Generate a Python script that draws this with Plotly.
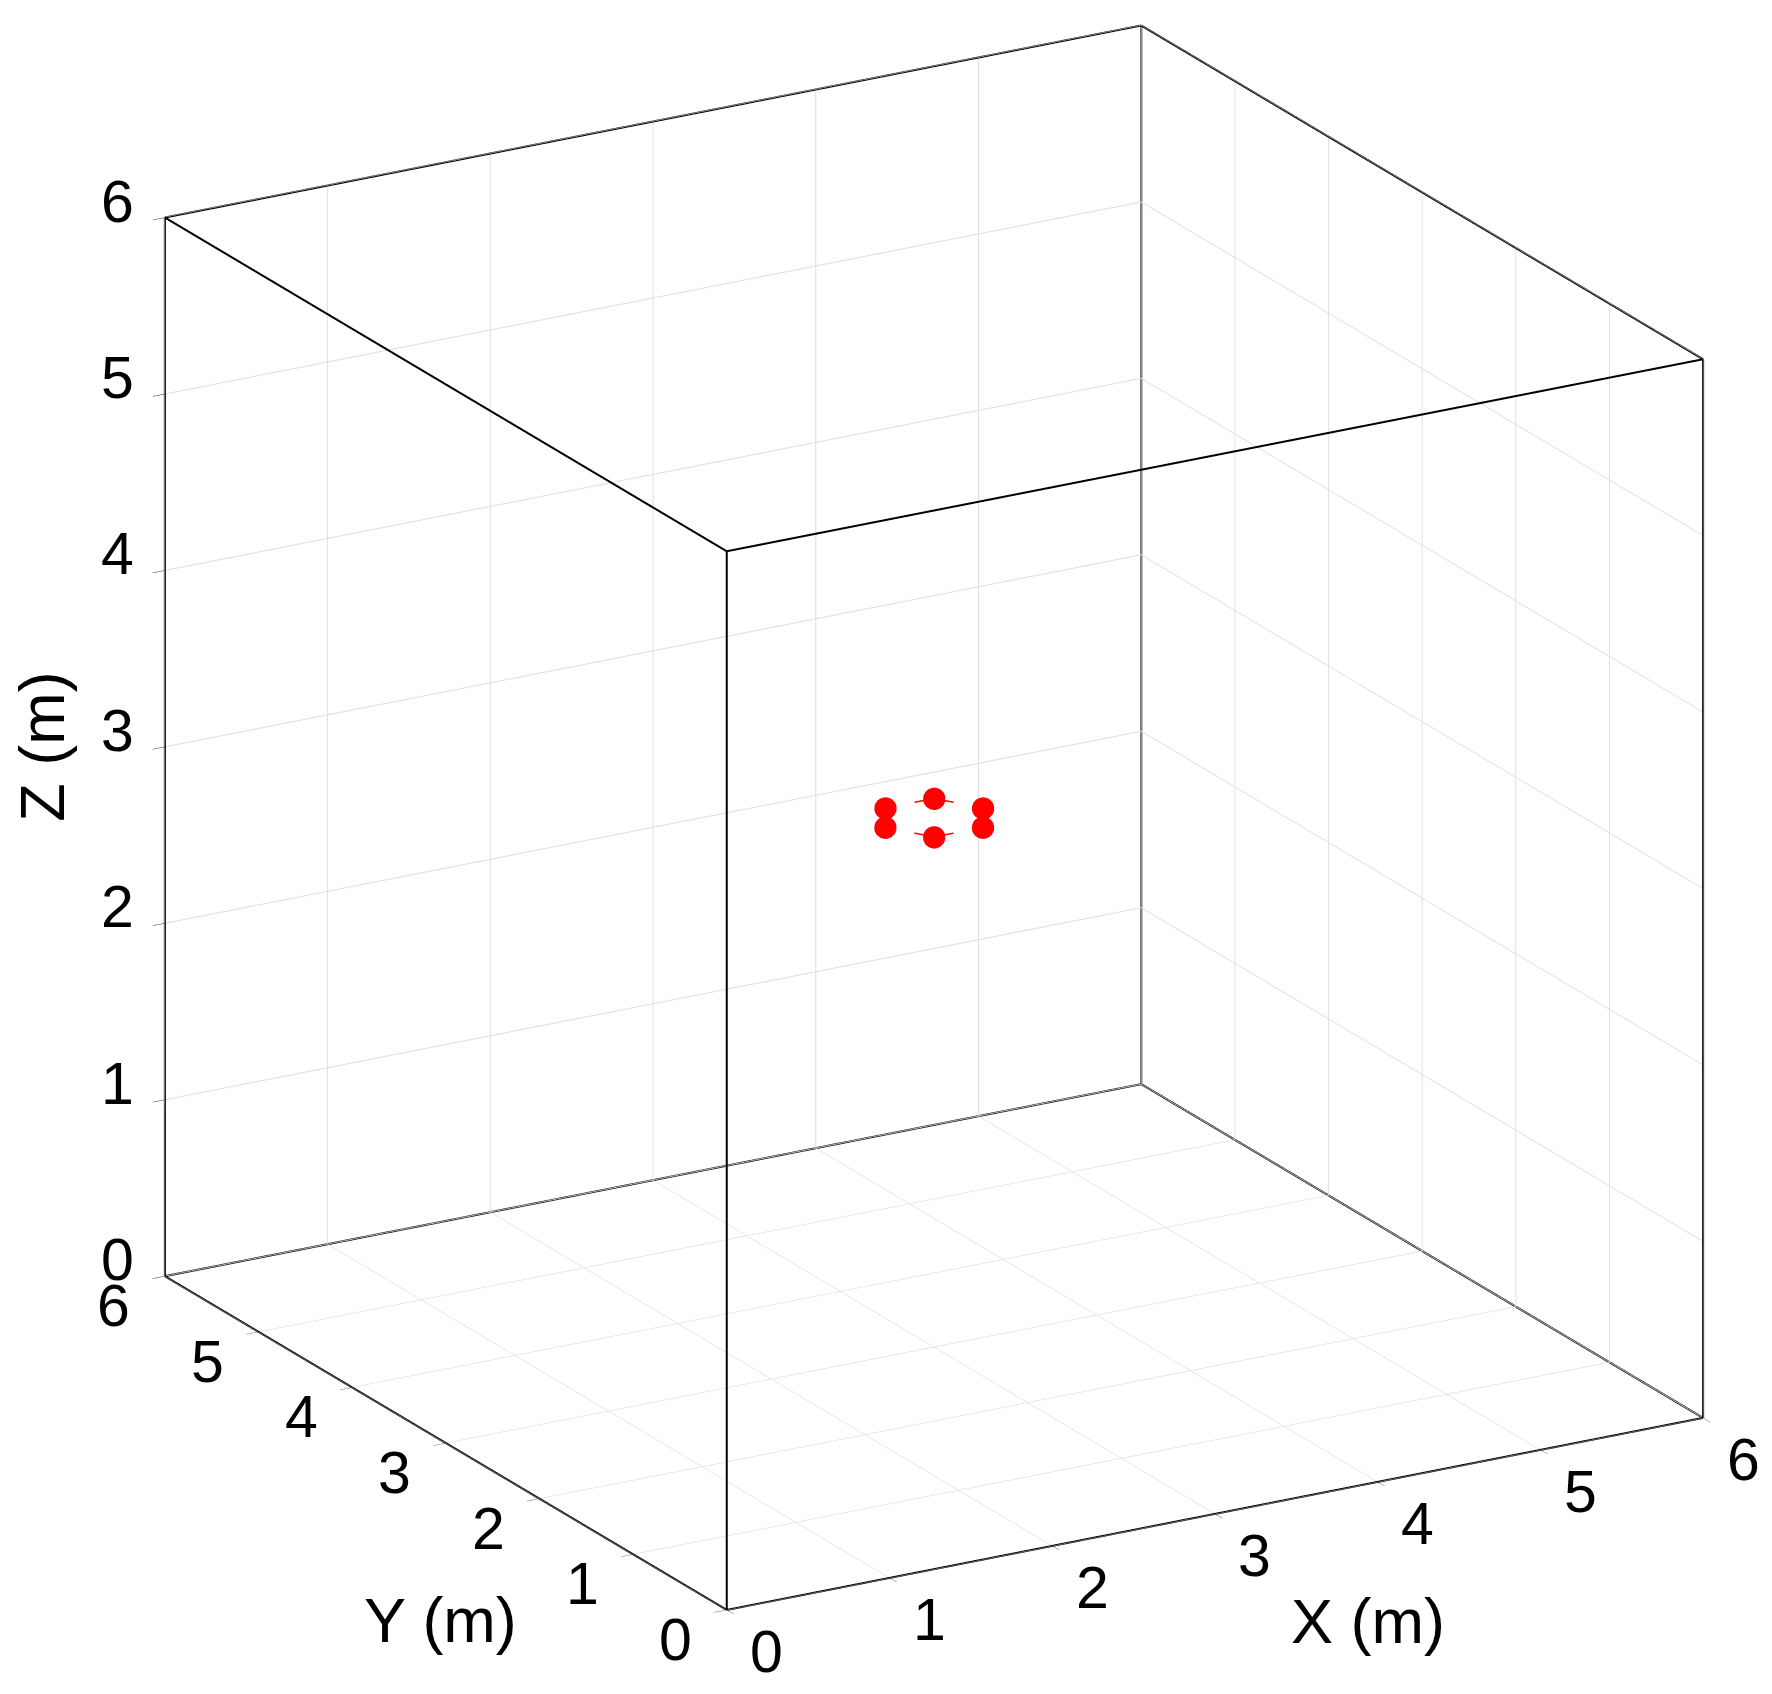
import plotly.graph_objects as go

# hexagon of 6 points (m), closed back to the first one
pts_x = [3.30, 3.15, 2.85, 2.70, 2.85, 3.15, 3.30]
pts_y = [3.00, 3.26, 3.26, 3.00, 2.74, 2.74, 3.00]
pts_z = [3.00, 3.00, 3.00, 3.00, 3.00, 3.00, 3.00]

tick_vals = [0, 1, 2, 3, 4, 5, 6]
tick_text = ["0", "1", "2", "3", "4", "5", "6"]
axis_range = [0, 6]

FONT = "Liberation Sans, Arial, sans-serif"
TICK_SIZE = 59
TITLE_SIZE = 63

lo, hi = axis_range
mid = (lo + hi) / 2

fig = go.Figure()

# box frame: all 12 edges (MATLAB "box on")
ex, ey, ez = [], [], []
for a in (lo, hi):
    for b in (lo, hi):
        ex += [lo, hi, None]; ey += [a, a, None]; ez += [b, b, None]
        ex += [a, a, None]; ey += [lo, hi, None]; ez += [b, b, None]
        ex += [a, a, None]; ey += [b, b, None]; ez += [lo, hi, None]
fig.add_trace(go.Scatter3d(
    x=ex, y=ey, z=ez, mode="lines",
    line=dict(color="black", width=4),
    hoverinfo="skip", showlegend=False,
))

fig.add_trace(go.Scatter3d(
    x=pts_x, y=pts_y, z=pts_z,
    mode="lines+markers",
    line=dict(color="#ff0000", width=3, dash="longdash"),
    marker=dict(color="#ff0000", size=13, line=dict(width=0)),
    showlegend=False,
))


def _axis():
    return dict(
        title=dict(text=""),
        range=axis_range,
        tickvals=tick_vals,
        showticklabels=False,
        showline=False,
        showgrid=True, gridcolor="#dedede", gridwidth=2,
        zeroline=False,
        showbackground=False,
        ticks="outside", ticklen=14, tickcolor="#333333", tickwidth=1,
        showspikes=False,
    )


# tick labels and axis titles as scene annotations (horizontal, like MATLAB)
ann = []
tick_font = dict(size=TICK_SIZE, color="black", family=FONT)
title_font = dict(size=TITLE_SIZE, color="black", family=FONT)
for v, t in zip(tick_vals, tick_text):
    ann.append(dict(x=v, y=lo, z=lo, text=t, showarrow=False, font=tick_font,
                    xshift=40, yshift=-42))
    ann.append(dict(x=lo, y=v, z=lo, text=t, showarrow=False, font=tick_font,
                    xshift=-51, yshift=-30))
    ann.append(dict(x=lo, y=hi, z=v, text=t, showarrow=False, font=tick_font,
                    xshift=-47, yshift=16))
ann.append(dict(x=mid, y=lo, z=lo, text="X (m)", showarrow=False, font=title_font,
                xshift=153, yshift=-107))
ann.append(dict(x=lo, y=mid, z=lo, text="Y (m)", showarrow=False, font=title_font,
                xshift=-5, yshift=-177))
ann.append(dict(x=lo, y=hi, z=mid, text="Z (m)", showarrow=False, font=title_font,
                textangle=-90, xshift=-123, yshift=0))

k = 1.6
asp = 1.33
cen = dict(x=-0.0311, y=0.0406, z=-0.0540)
dirv = (-0.469, -0.815, 0.342)
fig.update_layout(
    width=1772, height=1694,
    paper_bgcolor="white",
    margin=dict(l=0, r=0, t=0, b=0),
    font=dict(family=FONT, color="black"),
    scene=dict(
        xaxis=_axis(),
        yaxis=_axis(),
        zaxis=_axis(),
        aspectmode="manual",
        aspectratio=dict(x=asp, y=asp, z=asp),
        camera=dict(
            eye=dict(x=cen["x"] + dirv[0] * k, y=cen["y"] + dirv[1] * k,
                     z=cen["z"] + dirv[2] * k),
            center=cen,
            up=dict(x=0, y=0, z=1),
            projection=dict(type="orthographic"),
        ),
        domain=dict(x=[0, 1], y=[0, 1]),
        annotations=ann,
    ),
)

fig.write_html("out.html")
